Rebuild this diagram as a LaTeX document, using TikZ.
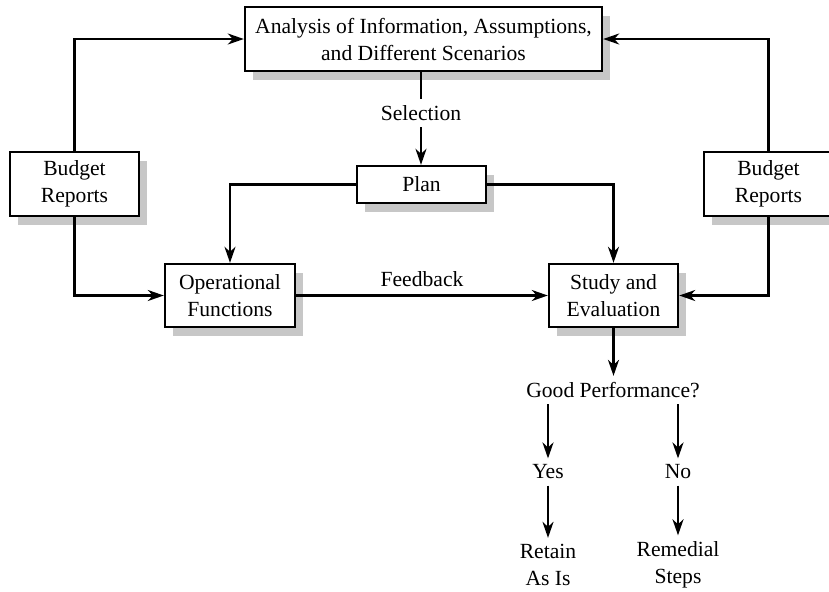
\documentclass[tikz,border=0pt]{standalone}
\usepackage{fontspec}
\setmainfont{Liberation Serif}
\usetikzlibrary{arrows.meta,shadows,positioning}
\begin{document}
\begin{tikzpicture}[x=0.5pt,y=-0.5pt,
  box/.style={draw,line width=1.2pt,fill=white,align=center,inner sep=0pt,
    font=\fontsize{10.8}{13.5}\selectfont,
    drop shadow={shadow xshift=4pt,shadow yshift=-4.5pt,fill=black!22,opacity=1}},
  lbl/.style={align=center,font=\fontsize{10.8}{13.5}\selectfont,inner sep=3pt},
  arr/.style={line width=1.1pt,-{Stealth[length=8pt,width=5.5pt,inset=2.5pt]}},
  ln/.style={line width=1.1pt}]
\useasboundingbox (0,0) rectangle (829,591);
\node[box,minimum width=178.5pt,minimum height=32pt] (top) at (423.5,39) {Analysis of Information, Assumptions,\\and Different Scenarios};
\node[box,minimum width=64.5pt,minimum height=18.5pt] (plan) at (421.5,184.5) {Plan};
\node[box,minimum width=64.5pt,minimum height=32pt] (lbud) at (74.5,184) {Budget\\Reports};
\node[box,minimum width=64.5pt,minimum height=32pt] (rbud) at (768.5,184) {Budget\\Reports};
\node[box,minimum width=65pt,minimum height=31.5pt] (op) at (230,295.5) {Operational\\Functions};
\node[box,minimum width=64.5pt,minimum height=31.5pt] (study) at (613.5,295.5) {Study and\\Evaluation};
\node[lbl] (sel) at (421,113) {Selection};
\node[lbl] (gp) at (613,390) {Good Performance?};
\node[lbl] (yes) at (548,472) {Yes};
\node[lbl] (no) at (678,472) {No};
\node[lbl] (ret) at (548,565) {Retain\\As Is};
\node[lbl] (rem) at (678,565) {Remedial\\Steps};
\draw[ln] (sel |- top.south) -- (sel);
\draw[arr] (sel) -- (sel |- plan.north);
\draw[arr] (lbud.north) |- (top.west);
\draw[arr] (rbud.north) |- (top.east);
\draw[arr] (lbud.south) |- (op.west);
\draw[arr] (rbud.south) |- (study.east);
\draw[arr] (plan.west) -| (op.north);
\draw[arr] (plan.east) -| (study.north);
\draw[arr] (op.east) -- node[lbl,above=1pt]{Feedback} (study.west);
\draw[arr] (study.south) -- (gp.north -| study.south);
\draw[arr] (gp.south -| yes) -- (yes);
\draw[arr] (gp.south -| no) -- (no);
\draw[arr] (yes) -- (ret);
\draw[arr] (no) -- (rem);
\end{tikzpicture}
\end{document}
